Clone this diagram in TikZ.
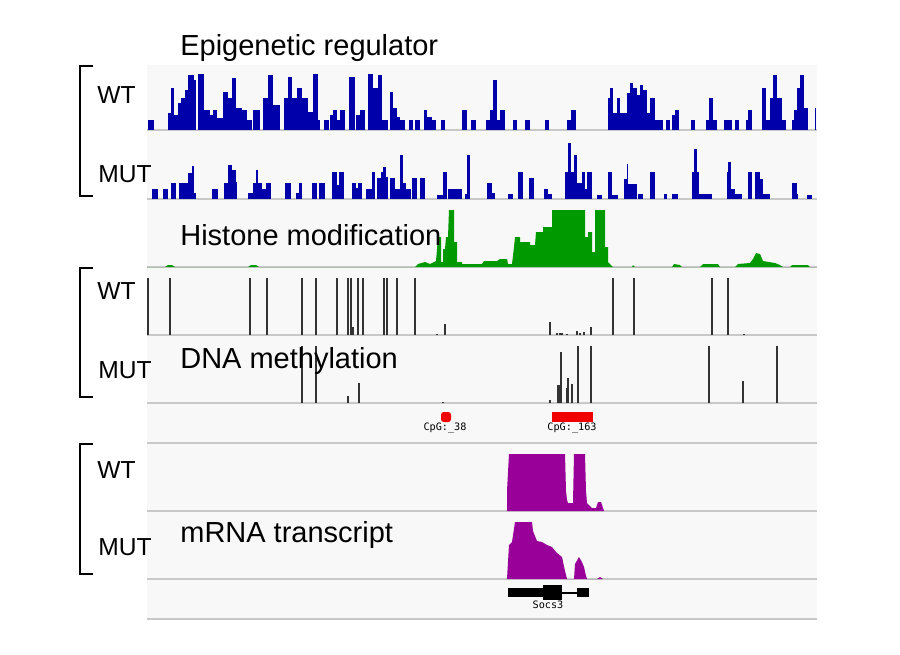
\documentclass[tikz,border=0pt]{standalone}
\usepackage{fontspec}
\setmainfont{Liberation Sans}
\newfontfamily\trackfont{DejaVu Sans Mono}
\usepackage{tikz}
\definecolor{epiblue}{RGB}{0,0,170}
\definecolor{histgreen}{RGB}{0,153,0}
\definecolor{rnapurple}{RGB}{153,0,153}
\definecolor{cpgred}{RGB}{240,0,0}
\definecolor{panelgray}{RGB}{248,248,248}
\definecolor{sepgray}{RGB}{200,200,200}

\begin{document}
\begin{tikzpicture}[x=0.02cm, y=-0.02cm,
  title/.style={anchor=base west, inner sep=0pt, font=\fontsize{16.5}{19}\selectfont},
  lab/.style={anchor=base west, inner sep=0pt, font=\fontsize{14}{17}\selectfont},
  tiny/.style={inner sep=0pt, font=\trackfont\fontsize{5.8}{7}\selectfont},
  sep/.style={sepgray, line width=0.7pt},
  methline/.style={black!80, line width=1pt},
  bracket/.style={line width=1pt}]
\useasboundingbox (0,0) rectangle (900,654);
\fill[white] (0,0) rectangle (900,654);
\fill[panelgray] (147,65) rectangle (817,619);
\foreach \y in {130,199,267,335,403,443,511,579,619}
  \draw[sep] (147,\y) -- (817,\y);

% epigenetic regulator, WT
\begin{scope}[shift={(0,130)}, yscale=-1]
\foreach \a/\b/\h in {148/154/10, 168/171/17, 171/174/42, 174/178/15, 178/181/27, 181/185/32, 185/188/40, 188/194/55, 194/196/50, 198/204/56, 204/210/20, 210/213/15, 213/217/20, 217/223/12, 223/228/38, 228/232/32, 232/236/52, 236/242/22, 242/247/20, 247/252/10, 253/260/20, 263/268/32, 268/273/55, 273/280/25, 284/288/32, 288/292/53, 292/297/32, 297/302/42, 302/308/32, 308/313/18, 313/318/56, 318/320/10, 324/329/10, 330/333/15, 333/337/20, 337/340/10, 340/345/20, 349/355/53, 356/360/15, 360/365/20, 368/373/56, 373/378/42, 378/382/55, 382/388/10, 390/393/38, 393/397/22, 397/400/13, 400/405/10, 409/413/10, 415/420/10, 424/427/20, 427/432/13, 432/436/10, 441/445/10, 462/467/20, 471/476/10, 486/490/10, 490/493/20, 493/497/50, 497/500/10, 500/505/20, 513/517/10, 525/530/10, 545/549/10, 567/571/10, 571/576/20, 608/610/32, 610/613/42, 613/617/17, 617/620/32, 620/627/17, 627/630/37, 630/633/47, 633/637/42, 637/640/35, 640/643/45, 643/647/40, 647/650/17, 650/655/32, 655/663/10, 666/670/10, 672/675/15, 675/679/20, 691/695/10, 706/709/10, 709/713/32, 713/717/10, 724/728/10, 728/732/10, 735/739/10, 746/748/10, 748/752/20, 762/766/42, 766/770/10, 770/773/32, 773/777/55, 777/782/32, 782/786/10, 792/794/10, 794/797/20, 797/800/42, 800/804/55, 804/808/22, 815/816/22}
  \fill[epiblue] (\a,0) rectangle (\b,\h);
\end{scope}

% epigenetic regulator, MUT
\begin{scope}[shift={(0,199)}, yscale=-1]
\foreach \a/\b/\h in {152/158/10, 163/168/10, 171/176/16, 179/188/16, 188/192/26, 192/194/33, 194/196/6, 212/218/10, 224/228/16, 228/232/34, 232/236/29, 236/237/17, 248/253/6, 253/256/16, 256/258/29, 258/262/16, 262/266/10, 266/271/16, 285/291/16, 296/299/6, 299/302/16, 312/317/16, 319/325/16, 332/337/27, 337/339/14, 339/344/27, 352/356/16, 356/358/11, 358/362/16, 366/372/10, 372/375/27, 377/381/21, 381/383/27, 383/386/32, 386/388/22, 390/395/21, 395/400/10, 400/403/44, 403/406/16, 406/411/10, 412/417/21, 420/425/21, 437/443/4, 443/447/27, 448/453/10, 453/462/10, 465/467/5, 467/470/44, 487/492/16, 492/495/6, 508/513/5, 518/523/27, 529/534/21, 544/548/10, 548/552/5, 565/568/27, 568/571/56, 571/574/27, 574/577/44, 577/582/16, 582/585/27, 585/587/10, 587/592/27, 597/602/4, 608/612/27, 612/618/4, 624/627/20, 627/628/35, 628/637/15, 638/643/5, 650/655/27, 664/667/5, 672/678/5, 692/694/27, 694/697/50, 697/699/27, 699/712/5, 727/728/27, 728/731/37, 731/735/10, 735/742/5, 748/752/27, 755/760/27, 760/763/20, 763/770/5, 792/797/16, 797/798/5, 807/812/4}
  \fill[epiblue] (\a,0) rectangle (\b,\h);
\end{scope}

% histone modification
\begin{scope}[shift={(0,267)}, yscale=-1]
\fill[histgreen] plot coordinates {(147,0) (165,0) (168,2) (172,2) (175,0) (248,0) (251,2) (256,2) (259,0) (415,0) (418,3) (425,5) (430,3) (436,6) (438,30) (441,30) (441,5) (443,5) (443,18) (445,18) (446,30) (448,30) (449,57) (454,57) (454,25) (457,25) (457,5) (462,5) (462,3) (482,3) (484,6) (497,6) (500,8) (507,8) (508,3) (512,3) (514,20) (515,30) (520,30) (520,25) (530,25) (530,22) (535,22) (536,35) (543,35) (543,40) (552,40) (552,57) (585,57) (585,30) (588,30) (588,35) (592,35) (592,15) (595,15) (595,57) (605,57) (605,20) (608,20) (608,5) (613,0) (632,0) (633,2) (635,0) (672,0) (674,3) (680,2) (682,0) (700,0) (703,3) (718,3) (720,0) (735,0) (738,3) (750,4) (753,8) (756,14) (760,13) (763,6) (775,4) (780,2) (783,0) (790,0) (792,2) (808,2) (810,0) (817,0)} -- cycle;
\end{scope}

% DNA methylation, WT and MUT
\begin{scope}[shift={(0,335)}, yscale=-1]
\foreach \x/\h in {148/57, 170/57, 250/57, 267/57, 302/57, 316/57, 337/57, 348/57, 351/57, 353/8, 358/57, 363/57, 384/57, 387/57, 397/57, 415/57, 437/1, 445/11, 550/13, 557/2, 560/2, 562/2, 567/1, 577/4, 580/2, 584/3, 591/8, 613/57, 634/57, 712/57, 728/57, 744/1}
  \draw[methline] (\x,0) -- (\x,\h);
\end{scope}
\begin{scope}[shift={(0,403)}, yscale=-1]
\foreach \x/\h in {302/57, 316/57, 348/7, 359/20, 443/1, 550/3, 558/18, 560/18, 561/51, 567/15, 568/25, 572/19, 578/57, 591/57, 709/57, 743/22, 777/57}
  \draw[methline] (\x,0) -- (\x,\h);
\end{scope}

% CpG islands
\fill[cpgred, rounded corners=1.5pt] (441,412) rectangle (451,422);
\fill[cpgred] (552,412) rectangle (593,422);
\node[tiny] (cpga) at (445,428) {CpG:\_38};
\node[tiny] (cpgb) at (572,428) {CpG:\_163};

% mRNA transcript, WT and MUT
\begin{scope}[shift={(0,511)}, yscale=-1]
\fill[rnapurple] plot coordinates {(507,0) (507,20) (509,57) (565,57) (566,20) (567,11) (568,8) (573,8) (574,57) (585,57) (586,20) (587,8) (592,3) (596,3) (598,9) (601,9) (604,0)} -- cycle;
\end{scope}
\begin{scope}[shift={(0,579)}, yscale=-1]
\fill[rnapurple] plot coordinates {(507,0) (509,34) (512,37) (515,57) (532,57) (533,48) (537,38) (542,37) (547,34) (552,32) (557,26) (562,22) (565,8) (567,0) (574,0) (575,15) (579,22) (582,17) (584,12) (586,3) (587,0) (597,0) (600,2) (603,0)} -- cycle;
\end{scope}

% gene model
\draw[line width=0.8pt] (562,593) -- (577,593);
\fill (508,588) rectangle (543,597);
\fill (543,585) rectangle (562,600);
\fill (577,588) rectangle (589,597);
\node[tiny] (gene) at (548,604.5) {Socs3};

% brackets
\draw[bracket] (93,66) -- (80,66) -- (80,196) -- (93,196);
\draw[bracket] (93,268) -- (80,268) -- (80,397) -- (93,397);
\draw[bracket] (93,444) -- (80,444) -- (80,574) -- (93,574);

% labels
\node[title] (epi) at (180,55) {Epigenetic regulator};
\node[title] (hist) at (180,245) {Histone modification};
\node[title] (meth) at (180,368) {DNA methylation};
\node[title] (rna) at (180,542) {mRNA transcript};
\node[lab] (epiwt) at (97,103) {WT};
\node[lab] (epimut) at (98,182) {MUT};
\node[lab] (methwt) at (97,299) {WT};
\node[lab] (methmut) at (98,378) {MUT};
\node[lab] (rnawt) at (97,478) {WT};
\node[lab] (rnamut) at (98,555) {MUT};
\end{tikzpicture}
\end{document}
